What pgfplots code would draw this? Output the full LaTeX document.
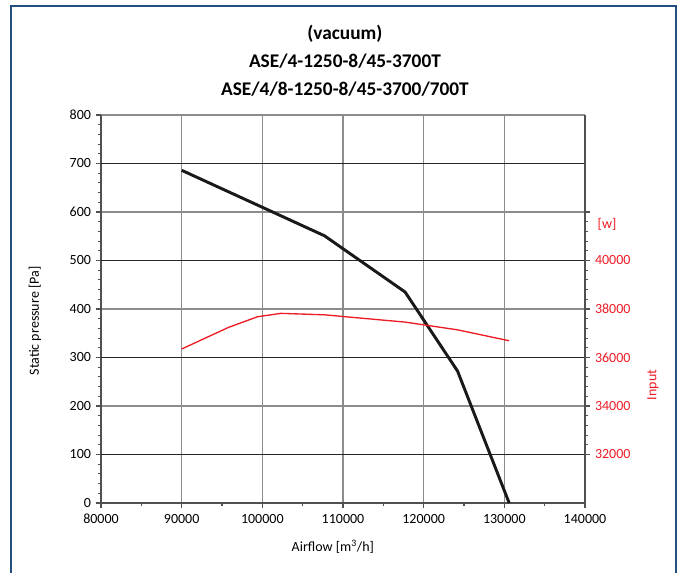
\documentclass[border=0pt]{standalone}
\usepackage{pgfplots}
\pgfplotsset{compat=1.18}
\usepackage{fontspec}
\setmainfont{Carlito}

\definecolor{curvered}{RGB}{237,28,36}
\definecolor{framblue}{RGB}{35,78,128}
\definecolor{gridgray}{RGB}{140,140,140}
\definecolor{axisgray}{RGB}{80,80,80}

% Fan curve: static pressure vs airflow
\pgfplotstableread{
x      p
90000  686
107700 551
117700 435
124200 272
130600 0
}\pressure

% Power input vs airflow
\pgfplotstableread{
x      w
90000  36350
95800  37240
99400  37680
102300 37820
107700 37760
113000 37600
117700 37460
124200 37140
130600 36690
}\inputpower

\begin{document}
\begin{tikzpicture}
\useasboundingbox (-75.75pt,-52.5pt) rectangle (436.5pt,377.25pt);
\draw[color=framblue, line width=1.4pt] (-67.5pt,-60pt) rectangle (431.25pt,372.75pt);

\pgfplotsset{
  every axis/.append style={
    scale only axis, width=363pt, height=291pt,
    font=\fontsize{10.5}{12}\selectfont,
    /pgf/number format/assume math mode=true,
    /pgf/number format/fixed,
    /pgf/number format/precision=0,
    /pgf/number format/1000 sep={},
    tick align=outside,
    major tick length=4pt, minor tick length=2.5pt,
    every tick/.style={axisgray, line width=0.8pt},
    axis line style={axisgray, line width=1.2pt},
  }
}

\begin{axis}[
  xmin=80000, xmax=140000, ymin=0, ymax=800,
  xtick={80000,90000,...,140000},
  ytick={0,100,...,800},
  minor x tick num=1, minor y tick num=4,
  scaled x ticks=false,
  xmajorgrids, ymajorgrids,
  grid style={gridgray, line width=0.9pt},
  extra y ticks={100,300,500,700},
  extra y tick labels={},
  extra y tick style={grid style={black!85, line width=0.8pt}},
  axis y line*=left, axis x line*=bottom,
  xlabel={Airflow [m\textsuperscript{3}/h]},
  ylabel={Static pressure [Pa]},
  xlabel style={at={([yshift=-33pt]axis description cs:0.479,0)}, anchor=center},
  ylabel style={at={([xshift=-49.5pt]axis description cs:0,0.469)}, anchor=center},
  xticklabel style={yshift=-1pt},
  clip=false,
]
\addplot[black!90, line width=2.2pt] table[x=x, y=p] {\pressure};
\node[font=\fontsize{14.5}{21}\selectfont\bfseries, align=center, anchor=center]
  at ([yshift=40.7pt]rel axis cs:0.504,1)
  {(vacuum)\\ASE/4-1250-8/45-3700T\\ASE/4/8-1250-8/45-3700/700T};
\end{axis}

\begin{axis}[
  xmin=80000, xmax=140000, ymin=30000, ymax=46000,
  axis x line=none, axis y line*=right,
  ytick={32000,34000,...,42000},
  yticklabels={32000,34000,36000,38000,40000,{}},
  extra y ticks={41500},
  extra y tick labels={[w]},
  extra y tick style={major tick length=0pt, yticklabel style={xshift=6pt}},
  minor y tick num=4,
  scaled y ticks=false,
  yticklabel style={text=curvered},
  ylabel={Input},
  ylabel style={text=curvered, at={([xshift=51pt]axis description cs:1,0.304)}, anchor=center, rotate=0},
]
\addplot[curvered, line width=1pt] table[x=x, y=w] {\inputpower};
\end{axis}
\end{tikzpicture}
\end{document}
